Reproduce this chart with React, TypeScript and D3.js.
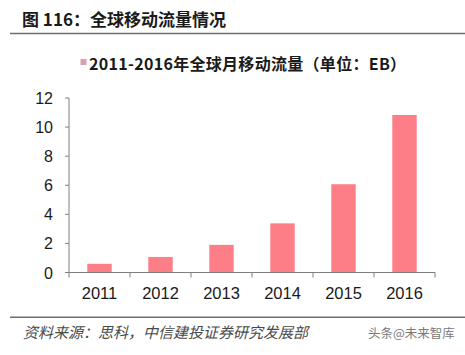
import React from "react";
import * as d3 from "d3";

const years = ["2011", "2012", "2013", "2014", "2015", "2016"];
const traffic = [0.6, 1.07, 1.9, 3.38, 6.07, 10.83];
const yTicks = [0, 2, 4, 6, 8, 10, 12];
const titleText = "图 116：全球移动流量情况";
const legendText = "2011-2016年全球月移动流量（单位：EB）";
const sourceText = "资料来源：思科，中信建投证券研究发展部";
const watermarkText = "头条@未来智库";

const W = 465;
const H = 355;
const left = 69;
const right = 435;
const top = 98;
const bottom = 272.5;
const barColor = "#fd7e87";
const axisColor = "#7f7f7f";
const latin = "Liberation Sans, Arial, sans-serif";
const cjk = "'Noto Sans CJK SC', sans-serif";

export default function App() {
  const x = d3.scaleBand<string>().domain(years).range([left, right]).paddingInner(0.6).paddingOuter(0.3);
  const band = d3.scaleBand<string>().domain(years).range([left, right]);
  const y = d3.scaleLinear().domain([0, 12]).range([bottom, top]);

  return (
    <svg width={W} height={H} style={{ position: "absolute", left: 0, top: 0, background: "#fff" }}>
      <text x={22} y={26} fontFamily={cjk} fontWeight="bold" fontSize={17} fill="#1a1a1a">
        {titleText}
      </text>
      <line x1={10} x2={W} y1={33.5} y2={33.5} stroke="#6e6e6e" strokeWidth={1.5} />

      <rect x={80.5} y={59} width={6} height={6} fill="#d9a0ab" />
      <text x={89} y={69.5} fontFamily={cjk} fontWeight="bold" fontSize={16} letterSpacing={0.3} fill="#1a1a1a">
        {legendText}
      </text>

      {years.map((yr, i) => (
        <rect
          key={yr}
          x={x(yr)}
          y={y(traffic[i])}
          width={x.bandwidth()}
          height={y(0) - y(traffic[i])}
          fill={barColor}
        />
      ))}

      <line x1={left} x2={left} y1={top} y2={bottom} stroke={axisColor} strokeWidth={1} />
      {yTicks.map((t) => (
        <g key={t}>
          <line x1={left - 4} x2={left} y1={y(t)} y2={y(t)} stroke={axisColor} />
          <text x={53} y={y(t) + 6} textAnchor="end" fontFamily={latin} fontSize={16} fill="#1a1a1a">
            {t}
          </text>
        </g>
      ))}

      <line x1={left} x2={right} y1={bottom} y2={bottom} stroke={axisColor} strokeWidth={1} />
      {[...years.map((yr) => band(yr) as number), right].map((px, i) => (
        <line key={i} x1={px} x2={px} y1={bottom} y2={bottom + 5} stroke={axisColor} />
      ))}
      {years.map((yr) => (
        <text
          key={yr}
          x={(band(yr) as number) + band.bandwidth() / 2}
          y={299}
          textAnchor="middle"
          fontFamily={latin}
          fontSize={16.5}
          fill="#1a1a1a"
        >
          {yr}
        </text>
      ))}

      <line x1={10} x2={W} y1={317.3} y2={317.3} stroke="#6e6e6e" strokeWidth={1.5} />
      <text x={23} y={338} fontFamily={cjk} fontStyle="italic" fontSize={15} fill="#4a4a4a">
        {sourceText}
      </text>
      <text x={368} y={338} fontFamily={cjk} fontSize={12.5} fill="#7a7a7a">
        {watermarkText}
      </text>
    </svg>
  );
}
